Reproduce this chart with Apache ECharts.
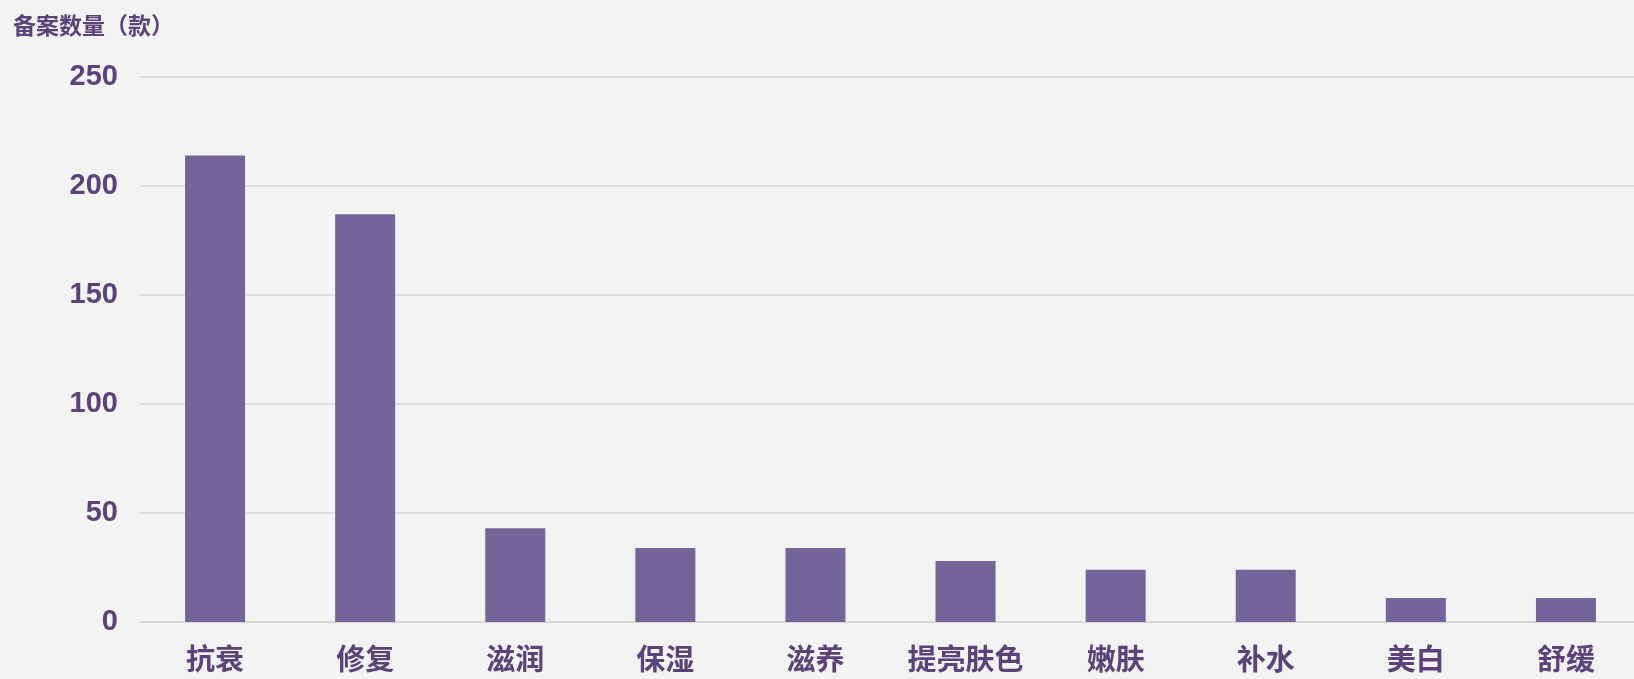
<!DOCTYPE html>
<html>
<head>
<meta charset="utf-8">
<title>备案数量</title>
<script src="https://cdn.jsdelivr.net/npm/echarts@6/dist/echarts.min.js"></script>
<style>
  html, body { margin: 0; padding: 0; background: #f3f3f3; overflow: hidden; }
  /* a bit wider than the window: the last band runs past the right edge, as in the source */
  #chart { width: 1660px; height: 679px; }
</style>
</head>
<body>
<div id="chart"></div>
<script>
// 功效分类 与 备案数量（款）
var categories = ['抗衰', '修复', '滋润', '保湿', '滋养', '提亮肤色', '嫩肤', '补水', '美白', '舒缓']
var counts = [214, 187, 43, 34, 34, 28, 24, 24, 11, 11]
var yTicks = [0, 50, 100, 150, 200, 250]

var purple = '#5b4279'

var myChart = echarts.init(document.getElementById('chart'))
var option = {
  backgroundColor: '#f3f3f3',
  title: {
    text: '备案数量（款）',
    left: 8,
    top: 9,
    textStyle: {
      fontFamily: 'Noto Sans CJK SC',
      fontSize: 23,
      fontWeight: 'bold',
      color: purple
    }
  },
  grid: {
    left: 140,
    top: 77,
    width: 1501,
    height: 545
  },
  xAxis: {
    type: 'category',
    data: categories,
    axisTick: { show: false },
    axisLine: { lineStyle: { color: '#d6d6d6', width: 1.5 } },
    axisLabel: {
      interval: 0,
      margin: 22,
      fontFamily: 'Noto Sans CJK SC',
      fontSize: 29,
      fontWeight: 'bold',
      color: purple
    }
  },
  yAxis: {
    type: 'value',
    min: yTicks[0],
    max: yTicks[yTicks.length - 1],
    interval: 50,
    axisLine: { show: false },
    axisTick: { show: false },
    splitLine: { lineStyle: { color: '#d9d9d9', width: 1.5 } },
    axisLabel: {
      margin: 22,
      fontFamily: 'Liberation Sans',
      fontSize: 29,
      fontWeight: 'bold',
      color: purple
    }
  },
  series: [
    {
      type: 'bar',
      data: counts,
      barWidth: 60,
      itemStyle: { color: '#74649a' }
    }
  ]
}
myChart.setOption(option)
</script>
</body>
</html>
